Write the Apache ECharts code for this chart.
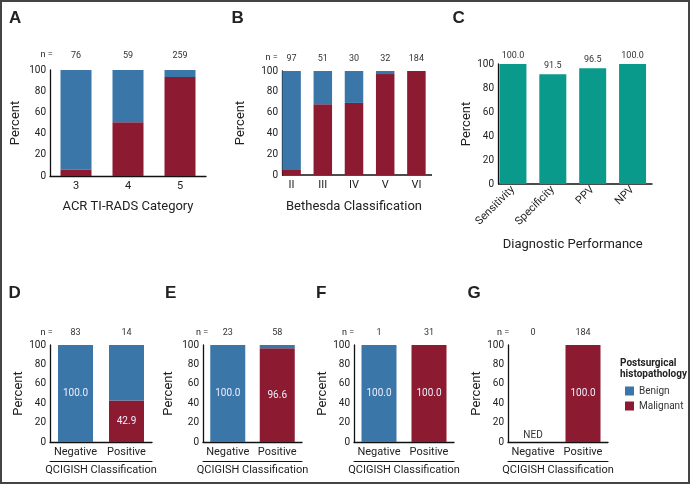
<!DOCTYPE html>
<html><head><meta charset="utf-8">
<script src="https://cdn.jsdelivr.net/npm/echarts@6/dist/echarts.min.js"></script>
<style>html,body{margin:0;padding:0;background:#fff}#c{width:690px;height:484px}</style>
</head><body><div id="c"></div>
<script>
// ---- data ----
const catsA = ['3', '4', '5'];
const nA = ['76', '59', '259'];
const malA = [6.0, 50.8, 93.4];
const benA = [94.0, 49.2, 6.6];

const catsB = ['II', 'III', 'IV', 'V', 'VI'];
const nB = ['97', '51', '30', '32', '184'];
const malB = [4.8, 68.0, 69.3, 97.0, 100];
const benB = [95.2, 32.0, 30.7, 3.0, 0];

const catsC = ['Sensitivity', 'Specificity', 'PPV', 'NPV'];
const perfC = [100.0, 91.5, 96.5, 100.0];

const catsQ = ['Negative', 'Positive'];
const nD = ['83', '14'];  const malD = [0, 42.9]; const benD = [100, 57.1];
const nE = ['23', '58'];  const malE = [0, 96.6]; const benE = [100, 3.4];
const nF = ['1', '31'];   const malF = [0, 100];  const benF = [100, 0];
const nG = ['0', '184'];  const malG = [0, 100];  const benG = [0, 0];
const emptyLabel = 'NED';

const yMin = 0, yMax = 100, yStep = 20;

// ---- styling ----
const FONT = 'Roboto, "Liberation Sans", Arial, sans-serif';
const TXT = '#222';
const BLUE = '#3b76a9', RED = '#8c1b31', TEAL = '#0a9a8c';
const AXC = '#111';

const chart = echarts.init(document.getElementById('c'), null, { renderer: 'canvas' });

const panels = [
  { grid: { left: 50, top: 70, width: 156, height: 106 }, cats: catsA, n: nA, mal: malA, ben: benA, barW: 31,
    xName: 'ACR TI-RADS Category', xNameGap: 24, nMargin: 10, yOff: 0, yNameGap: 28, inside: false },
  { grid: { left: 276, top: 71, width: 156, height: 104 }, cats: catsB, n: nB, mal: malB, ben: benB, barW: 18.5,
    xName: 'Bethesda Classification', xNameGap: 25, nMargin: 8, yOff: -6, yNameGap: 35, inside: false },
  { grid: { left: 50, top: 345, width: 102, height: 97 }, cats: catsQ, n: nD, mal: malD, ben: benD, barW: 35,
    nMargin: 8, yOff: 0, yNameGap: 23, inside: true },
  { grid: { left: 203, top: 345, width: 99, height: 97 }, cats: catsQ, n: nE, mal: malE, ben: benE, barW: 35,
    nMargin: 8, yOff: 0, yNameGap: 28, inside: true },
  { grid: { left: 354, top: 345, width: 100, height: 97 }, cats: catsQ, n: nF, mal: malF, ben: benF, barW: 35,
    nMargin: 8, yOff: 0, yNameGap: 24, inside: true },
  { grid: { left: 508, top: 345, width: 100, height: 97 }, cats: catsQ, n: nG, mal: malG, ben: benG, barW: 35,
    nMargin: 8, yOff: 0, yNameGap: 23, inside: true }
];

const grids = [], xAxes = [], yAxes = [], series = [], baseLines = [];

function yAxisFor(gi, off, gap) {
  return {
    type: 'value', gridIndex: gi, min: yMin, max: yMax, interval: yStep, offset: off,
    axisLine: { show: true, lineStyle: { color: AXC, width: 1.3 } },
    axisTick: { show: false }, splitLine: { show: false },
    axisLabel: { fontSize: 10, color: TXT, fontFamily: FONT, margin: 4 },
    name: 'Percent', nameLocation: 'middle', nameGap: gap,
    nameTextStyle: { fontSize: 13, color: TXT, fontFamily: FONT }
  };
}
// baseline drawn from the (inset) y axis to the right edge of the grid
function baseLine(g, off) {
  return { type: 'line', silent: true,
    shape: { x1: g.left - off, y1: g.top + g.height, x2: g.left + g.width, y2: g.top + g.height },
    style: { stroke: AXC, lineWidth: 1.3 } };
}

panels.forEach((p, gi) => {
  grids.push(p.grid);
  if (p.yOff < 0) baseLines.push(baseLine(p.grid, p.yOff));
  xAxes.push({
    type: 'category', gridIndex: gi, position: 'bottom', data: p.cats,
    axisLine: { show: p.yOff === 0, lineStyle: { color: AXC, width: 1.3 } },
    axisTick: { show: false },
    axisLabel: { fontSize: 11, color: TXT, fontFamily: FONT, margin: 5, interval: 0 },
    name: p.inside ? '' : p.xName, nameLocation: 'middle', nameGap: p.xNameGap || 0,
    nameTextStyle: { fontSize: 13, color: TXT, fontFamily: FONT }
  });
  xAxes.push({
    type: 'category', gridIndex: gi, position: 'top', data: p.n,
    axisLine: { show: false }, axisTick: { show: false },
    axisLabel: { fontSize: 9, color: '#333', fontFamily: FONT, margin: p.nMargin, interval: 0 }
  });
  if (p.inside) {
    xAxes.push({
      type: 'category', gridIndex: gi, position: 'bottom', offset: 19, data: p.cats,
      axisLine: { show: true, lineStyle: { color: AXC, width: 1 } },
      axisTick: { show: false }, axisLabel: { show: false },
      name: 'QCIGISH Classification', nameLocation: 'middle', nameGap: 4,
      nameTextStyle: { fontSize: 11, color: TXT, fontFamily: FONT }
    });
  }
  const xi = xAxes.findIndex(a => a.gridIndex === gi && a.position === 'bottom');
  yAxes.push(yAxisFor(gi, p.yOff, p.yNameGap));
  const yi = yAxes.length - 1;
  const insideLbl = { show: true, position: 'inside', color: '#eef', fontSize: 10, fontFamily: FONT,
    formatter: (d) => Number(d.value).toFixed(1) };
  series.push({
    name: 'Malignant', type: 'bar', stack: 's' + gi, xAxisIndex: xi, yAxisIndex: yi, barWidth: p.barW,
    itemStyle: { color: RED },
    data: p.mal.map((v, i) => {
      if (!p.inside) return v;
      if (v > 0) return { value: v, label: insideLbl };
      if (p.ben[i] === 0) return { value: v, label: { show: true, position: 'top', distance: 2, color: '#333',
        fontSize: 10, fontFamily: FONT, formatter: emptyLabel } };
      return v;
    })
  });
  series.push({
    name: 'Benign', type: 'bar', stack: 's' + gi, xAxisIndex: xi, yAxisIndex: yi, barWidth: p.barW,
    itemStyle: { color: BLUE },
    data: p.ben.map((v, i) => (p.inside && p.mal[i] === 0 && v > 0) ? { value: v, label: insideLbl } : v)
  });
});

// Panel C
const gC = grids.length;
const gridC = { left: 493, top: 64, width: 159.5, height: 120 };
grids.push(gridC);
baseLines.push(baseLine(gridC, -5));
xAxes.push({
  type: 'category', gridIndex: gC, position: 'bottom', data: catsC,
  axisLine: { show: false },
  axisTick: { show: false },
  axisLabel: { fontSize: 11, color: TXT, fontFamily: FONT, margin: 4, rotate: 45, interval: 0 },
  name: 'Diagnostic Performance', nameLocation: 'middle', nameGap: 54,
  nameTextStyle: { fontSize: 13, color: TXT, fontFamily: FONT }
});
yAxes.push(yAxisFor(gC, -5, 23));
series.push({
  name: 'Performance', type: 'bar', xAxisIndex: xAxes.length - 1, yAxisIndex: yAxes.length - 1, barWidth: 27,
  itemStyle: { color: TEAL },
  label: { show: true, position: 'top', distance: 4, fontSize: 9, color: '#333', fontFamily: FONT,
    formatter: (d) => Number(d.value).toFixed(1) },
  data: perfC
});

function txt(x, y, t, font, align) {
  return { type: 'text', x: x, y: y, silent: true,
    style: { text: t, font: font, fill: TXT, align: align || 'left', verticalAlign: 'middle' } };
}
const LET = 'bold 17px "Liberation Sans", Arial, sans-serif';
const NF = '9px ' + FONT;
const graphic = [
  { type: 'rect', shape: { x: 1, y: 1, width: 688, height: 482 }, silent: true,
    style: { fill: 'none', stroke: '#444', lineWidth: 2 } },
  txt(9, 18, 'A', LET), txt(231.5, 18, 'B', LET), txt(452.5, 18, 'C', LET),
  txt(8.5, 293.5, 'D', LET), txt(165, 293.5, 'E', LET), txt(316, 293.5, 'F', LET), txt(467.5, 293.5, 'G', LET),
  txt(46.5, 55, 'n =', NF, 'center'), txt(271.5, 58, 'n =', NF, 'center'),
  txt(46.5, 332.7, 'n =', NF, 'center'), txt(202, 332.7, 'n =', NF, 'center'),
  txt(348, 332.7, 'n =', NF, 'center'), txt(503, 332.7, 'n =', NF, 'center'),
  txt(620, 363, 'Postsurgical', 'bold 10px ' + FONT), txt(620, 374.5, 'histopathology', 'bold 10px ' + FONT)
].concat(baseLines);

chart.setOption({
  animation: false,
  textStyle: { fontFamily: FONT },
  grid: grids, xAxis: xAxes, yAxis: yAxes, series: series,
  legend: { left: 620, top: 381, orient: 'vertical', itemWidth: 9, itemHeight: 9, itemGap: 5, icon: 'rect',
    selectedMode: false, data: ['Benign', 'Malignant'],
    textStyle: { fontSize: 10, color: '#333', fontFamily: FONT } },
  graphic: graphic
});
</script></body></html>
